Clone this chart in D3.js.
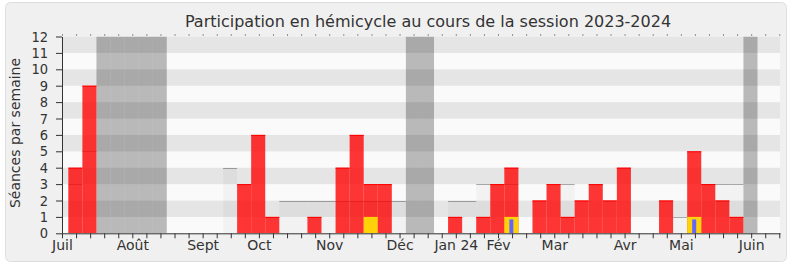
<!DOCTYPE html>
<html>
<head>
<meta charset="utf-8">
<script src="https://cdn.jsdelivr.net/npm/d3@7"></script>
<style>
  body { margin: 0; background: #fff; }
  svg { display: block; font-family: "DejaVu Sans", sans-serif; }
</style>
</head>
<body>
<svg id="chart" width="790" height="267"></svg>
<script>
// one value per week, starting with the first week of July 2023
const presence = [4,9,0,0,0,0,0,0,0,0,0,0,3,6,1,0,0,1,0,4,6,3,3,0,0,0,0,1,0,1,3,4,0,2,3,1,2,3,2,4,0,0,2,0,5,3,2,1,0,0,0];
const median   = [3,5,0,0,0,0,0,0,0,0,0,4,0,0,0,2,2,2,2,2,2,2,2,2,0,0,0,2,2,3,3,3,0,0,0,3,0,0,0,0,0,0,0,1,0,3,3,3,0,0,0];
const interventions = [0,0,0,0,0,0,0,0,0,0,0,0,0,0,0,0,0,0,0,0,0,1,0,0,0,0,0,0,0,0,0,1,0,0,0,0,0,0,0,0,0,0,0,0,1,0,0,0,0,0,0];
const questions     = [0,0,0,0,0,0,0,0,0,0,0,0,0,0,0,0,0,0,0,0,0,0,0,0,0,0,0,0,0,0,0,0.85,0,0,0,0,0,0,0,0,0,0,0,0,0.85,0,0,0,0,0,0];
const vacationWeeks = [2,3,4,5,6,24,25,48];
const monthLabels = ["Juil","Août","Sept","Oct","Nov","Déc","Jan 24","Fév","Mar","Avr","Mai","Juin"];
const monthWeeks  = [0,5,10,14,19,24,28,31,35,40,44,49];

const svg = d3.select("#chart");
const pLeft = 62, pRight = 780, pTop = 36.5, pBottom = 233.3;
const x = d3.scaleLinear().domain([0, 51.05]).range([pLeft, pRight]);
const y = d3.scaleLinear().domain([0, 12]).range([pBottom, pTop]);
const off = 0.45;
const bx = i => x(i + off), bw = x(1) - x(0);

svg.append("rect")
  .attr("x", 5.5).attr("y", 2.5).attr("width", 781).attr("height", 259)
  .attr("rx", 5).attr("fill", "#f0f0f0").attr("stroke", "#dedede");

svg.append("text")
  .attr("x", 428).attr("y", 27)
  .attr("text-anchor", "middle")
  .style("font-size", "16px").attr("fill", "#333")
  .text("Participation en hémicycle au cours de la session 2023-2024");

svg.append("clipPath").attr("id", "plot")
  .append("rect").attr("x", pLeft).attr("y", pTop).attr("width", pRight - pLeft).attr("height", pBottom - pTop);

const g = svg.append("g").attr("clip-path", "url(#plot)");

// horizontal stripes
g.selectAll(".stripe")
  .data(d3.range(12))
  .join("rect")
  .attr("x", pLeft).attr("width", pRight - pLeft)
  .attr("y", d => y(d + 1)).attr("height", d => y(d) - y(d + 1))
  .attr("fill", d => d % 2 ? "#e5e5e5" : "#fafafa");

// median of the chamber
const med = median.map((v, i) => ({ v, i })).filter(d => d.v > 0);
g.selectAll(".med")
  .data(med)
  .join("rect")
  .attr("x", d => bx(d.i)).attr("width", bw)
  .attr("y", d => y(d.v)).attr("height", d => y(0) - y(d.v))
  .attr("fill", "rgba(0,0,0,0.03)");
g.selectAll(".medline")
  .data(med)
  .join("line")
  .attr("x1", d => bx(d.i)).attr("x2", d => bx(d.i) + bw)
  .attr("y1", d => Math.round(y(d.v)) + 0.5).attr("y2", d => Math.round(y(d.v)) + 0.5)
  .attr("stroke", "rgba(0,0,0,0.3)");

// vacations
g.selectAll(".vac")
  .data(vacationWeeks)
  .join("rect")
  .attr("x", d => bx(d)).attr("width", bw)
  .attr("y", pTop).attr("height", pBottom - pTop)
  .attr("fill", "rgba(0,0,0,0.26)");

// presence
const pres = presence.map((v, i) => ({ v, i })).filter(d => d.v > 0);
g.selectAll(".pres")
  .data(pres)
  .join("rect")
  .attr("x", d => bx(d.i)).attr("width", bw)
  .attr("y", d => y(d.v)).attr("height", d => y(0) - y(d.v))
  .attr("fill", "rgba(255,0,0,0.79)");
g.selectAll(".prestop")
  .data(pres)
  .join("line")
  .attr("x1", d => bx(d.i)).attr("x2", d => bx(d.i) + bw)
  .attr("y1", d => y(d.v) + 0.5).attr("y2", d => y(d.v) + 0.5)
  .attr("stroke", "#ff0000");

// interventions
g.selectAll(".inter")
  .data(interventions.map((v, i) => ({ v, i })).filter(d => d.v > 0))
  .join("rect")
  .attr("x", d => bx(d.i)).attr("width", bw)
  .attr("y", d => y(d.v)).attr("height", d => y(0) - y(d.v))
  .attr("fill", "#ffd20a");

// questions
g.selectAll(".quest")
  .data(questions.map((v, i) => ({ v, i })).filter(d => d.v > 0))
  .join("rect")
  .attr("x", d => bx(d.i) + bw / 2 - 2).attr("width", 4)
  .attr("y", d => y(d.v)).attr("height", d => y(0) - y(d.v))
  .attr("fill", "#6464ff");

// axes
const xAxis = d3.axisBottom(x)
  .tickValues(d3.range(0, 52))
  .tickSize(5)
  .tickSizeOuter(0)
  .tickFormat(d => monthWeeks.includes(d) ? monthLabels[monthWeeks.indexOf(d)] : "");
const xa = svg.append("g").attr("transform", `translate(0,${pBottom})`).call(xAxis);
xa.selectAll("text").style("font-size", "14px").style("font-family", "DejaVu Sans")
  .attr("fill", "#333").attr("dy", "0.62em");
xa.selectAll("line, path").attr("stroke", "#333");

const xTop = d3.axisTop(x).tickValues(d3.range(0, 52)).tickSize(1).tickSizeOuter(0).tickFormat("");
const xt = svg.append("g").attr("transform", `translate(0,${pTop - 1})`).call(xTop);
xt.select(".domain").remove();
xt.selectAll("line").attr("stroke", "#333");

const yAxis = d3.axisLeft(y).tickValues(d3.range(0, 13)).tickSize(6).tickSizeOuter(0).tickPadding(8);
const ya = svg.append("g").attr("transform", `translate(${pLeft},0)`).call(yAxis);
ya.selectAll("text").style("font-size", "14.5px")
  .style("font-family", "'DejaVu Sans Condensed', 'DejaVu Sans'").style("font-stretch", "condensed")
  .attr("fill", "#333");
ya.selectAll("line, path").attr("stroke", "#333");

svg.append("text")
  .attr("transform", "translate(20,133) rotate(-90)")
  .attr("text-anchor", "middle")
  .style("font-size", "14px").attr("fill", "#333")
  .text("Séances par semaine");
</script>
</body>
</html>
